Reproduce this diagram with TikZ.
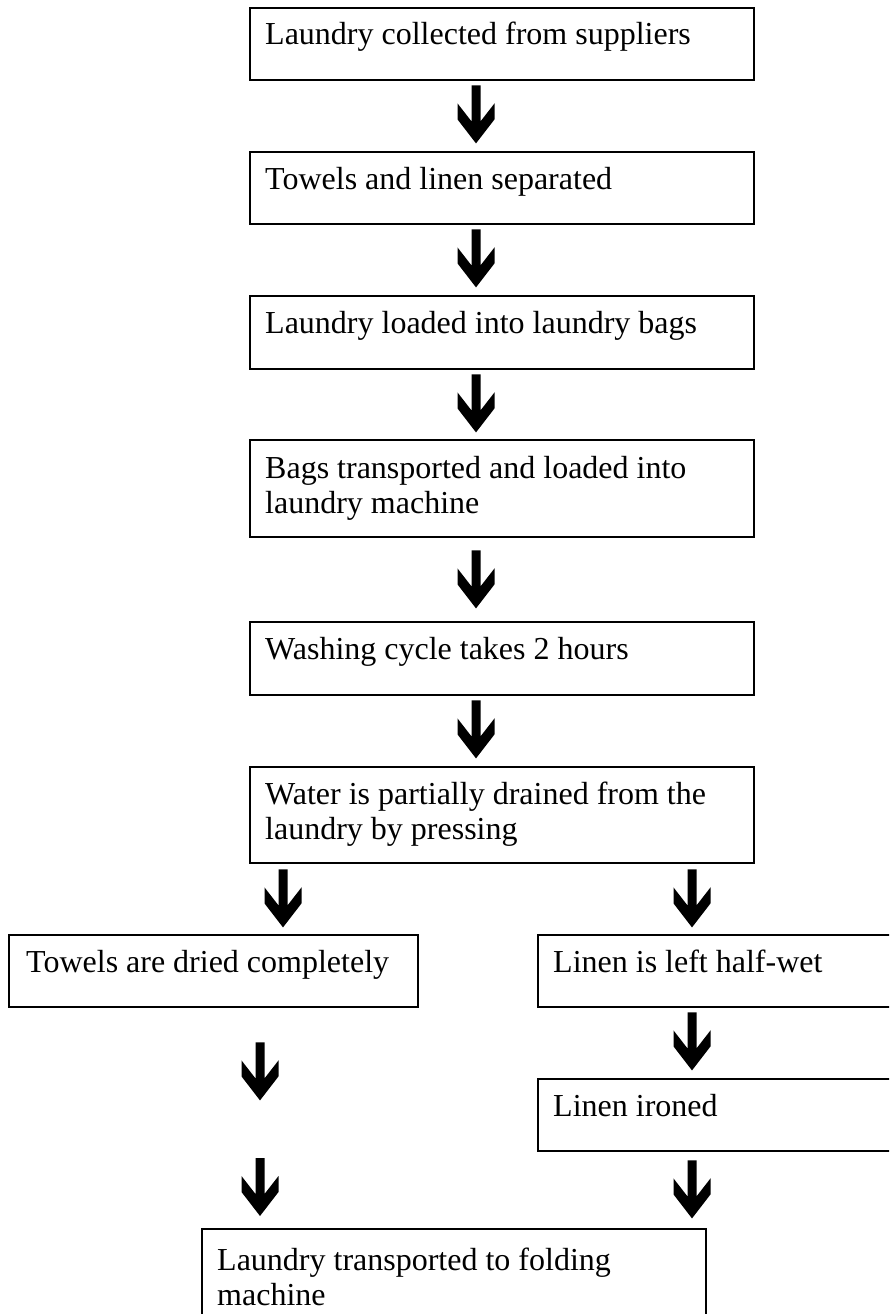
\documentclass[tikz,border=0pt]{standalone}
\usepackage{fontspec}
\setmainfont{Liberation Serif}
\usetikzlibrary{calc}
\newcommand\chevarrow[1]{\fill[shift={#1}] (-4.5,0) -- (4.5,0) -- (4.5,36) -- (18.5,18) -- (18.5,34) -- (0,58) -- (-18.5,34) -- (-18.5,18) -- (-4.5,36) -- cycle;}
\begin{document}
\begin{tikzpicture}[x=1pt,y=-1pt,
  box/.style={draw, line width=2.4pt, rectangle, inner sep=0pt, anchor=north west},
  txt/.style={anchor=base west, inner sep=0pt, font=\fontsize{32}{35}\selectfont, align=left}]
\useasboundingbox (0,0) rectangle (889,1314);
\clip (0,0) rectangle (889,1314);
\fill[white] (0,0) rectangle (889,1314);
% boxes
\node[box, minimum width=504pt, minimum height=72pt] (b1) at (249,7) {};
\node[box, minimum width=504pt, minimum height=72pt] (b2) at (249,151) {};
\node[box, minimum width=504pt, minimum height=73pt] (b3) at (249,295) {};
\node[box, minimum width=504pt, minimum height=97pt] (b4) at (249,439) {};
\node[box, minimum width=504pt, minimum height=73pt] (b5) at (249,621) {};
\node[box, minimum width=504pt, minimum height=96pt] (b6) at (249,766) {};
\node[box, minimum width=409pt, minimum height=72pt] (b7) at (8,934) {};
\node[box, minimum width=360pt, minimum height=72pt] (b8) at (537,934) {};
\node[box, minimum width=360pt, minimum height=72pt] (b9) at (537,1078) {};
\node[box, minimum width=504pt, minimum height=100pt] (b10) at (201,1228) {};
% texts (multi-line nodes anchored at the baseline of their last line)
\node[txt] (t1) at ($(b1.north west)+(16,38)$) {Laundry collected from suppliers};
\node[txt] (t2) at ($(b2.north west)+(16,38)$) {Towels and linen separated};
\node[txt] (t3) at ($(b3.north west)+(16,38)$) {Laundry loaded into laundry bags};
\node[txt] (t4) at ($(b4.north west)+(16,74)$) {Bags transported and loaded into\\laundry machine};
\node[txt] (t5) at ($(b5.north west)+(16,38)$) {Washing cycle takes 2 hours};
\node[txt] (t6) at ($(b6.north west)+(16,73)$) {Water is partially drained from the\\laundry by pressing};
\node[txt] (t7) at ($(b7.north west)+(18,38)$) {Towels are dried completely};
\node[txt] (t8) at ($(b8.north west)+(16,38)$) {Linen is left half-wet};
\node[txt] (t9) at ($(b9.north west)+(16,38)$) {Linen ironed};
\node[txt] (t10) at ($(b10.north west)+(16,77)$) {Laundry transported to folding\\machine};
% arrows
\chevarrow{($(b1.south west)+(227,4)$)}
\chevarrow{($(b2.south west)+(227,4)$)}
\chevarrow{($(b3.south west)+(227,4)$)}
\chevarrow{($(b4.south west)+(227,12)$)}
\chevarrow{($(b5.south west)+(227,4)$)}
\chevarrow{($(b6.south west)+(34,5)$)}
\chevarrow{($(b6.south west)+(443,5)$)}
\chevarrow{($(b8.south west)+(155,4)$)}
\chevarrow{($(b9.south west)+(155,8)$)}
\chevarrow{($(b7.south west)+(252,34)$)}
\chevarrow{($(b10.north west)+(59,-70)$)}
\end{tikzpicture}
\end{document}
